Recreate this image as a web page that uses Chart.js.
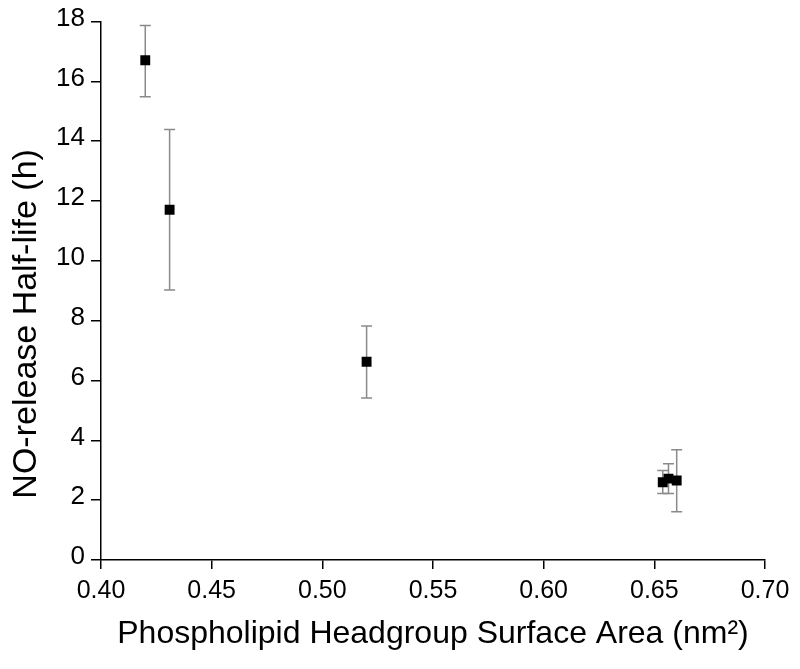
<!DOCTYPE html>
<html>
<head>
<meta charset="utf-8">
<script src="https://cdn.jsdelivr.net/npm/chart.js@4/dist/chart.umd.min.js"></script>
<style>
html,body{margin:0;padding:0;background:#fff;}
#wrap{width:800px;height:669px;position:relative;}
</style>
</head>
<body>
<div id="wrap"><canvas id="c" width="800" height="669"></canvas></div>
<script>
const xValues = [0.420, 0.431, 0.520, 0.6538, 0.6564, 0.6601];
const yValues = [16.71, 11.71, 6.63, 2.60, 2.72, 2.66];
const yErrUpper = [17.87, 14.39, 7.82, 2.99, 3.22, 3.69];
const yErrLower = [15.49, 9.03, 5.42, 2.22, 2.22, 1.61];
const xTickLabels = ['0.40','0.45','0.50','0.55','0.60','0.65','0.70'];
const yTickLabels = ['0','2','4','6','8','10','12','14','16','18'];

const points = xValues.map((x, i) => ({x: x, y: yValues[i]}));

const errorBars = {
  id: 'errorBars',
  beforeDatasetsDraw(chart) {
    const ctx = chart.ctx;
    const xs = chart.scales.x, ys = chart.scales.y;
    ctx.save();
    ctx.strokeStyle = '#8a8a8a';
    ctx.lineWidth = 1.5;
    const cap = 5.5;
    xValues.forEach((xv, i) => {
      const px = xs.getPixelForValue(xv);
      const top = ys.getPixelForValue(yErrUpper[i]);
      const bot = ys.getPixelForValue(yErrLower[i]);
      ctx.beginPath();
      ctx.moveTo(px, top); ctx.lineTo(px, bot);
      ctx.moveTo(px - cap, top); ctx.lineTo(px + cap, top);
      ctx.moveTo(px - cap, bot); ctx.lineTo(px + cap, bot);
      ctx.stroke();
    });
    ctx.restore();
  }
};

const fontFam = '"Liberation Sans", Arial, sans-serif';

new Chart(document.getElementById('c'), {
  type: 'scatter',
  data: {
    datasets: [{
      data: points,
      pointStyle: 'rect',
      pointRadius: 7,
      pointHoverRadius: 7,
      backgroundColor: '#000',
      borderColor: '#000',
      borderWidth: 0
    }]
  },
  options: {
    responsive: false,
    animation: false,
    events: [],
    layout: {padding: {top: 19, right: 35, left: 0, bottom: 0}},
    plugins: {legend: {display: false}, tooltip: {enabled: false}},
    scales: {
      x: {
        type: 'linear',
        min: 0.40, max: 0.70,
        afterBuildTicks(axis) {
          axis.ticks = xTickLabels.map(v => ({value: parseFloat(v)}));
        },
        afterFit(axis) { axis.height = 109; },
        grid: {drawOnChartArea: false, drawTicks: true, tickLength: 9, color: '#000', lineWidth: 1.5},
        border: {display: true, color: '#000', width: 1.5},
        ticks: {
          color: '#000',
          font: {family: fontFam, size: 25},
          padding: 7,
          maxRotation: 0,
          callback: (v, i) => xTickLabels[i]
        },
        title: {
          display: true,
          text: 'Phospholipid Headgroup Surface Area (nm²)',
          color: '#000',
          font: {family: fontFam, size: 32},
          padding: {top: 0, bottom: 16}
        }
      },
      y: {
        type: 'linear',
        min: 0, max: 18,
        afterBuildTicks(axis) {
          axis.ticks = yTickLabels.map(v => ({value: parseFloat(v)}));
        },
        afterFit(axis) { axis.width = 101; },
        grid: {drawOnChartArea: false, drawTicks: true, tickLength: 10, color: '#000', lineWidth: 1.5},
        border: {display: true, color: '#000', width: 1.5},
        ticks: {
          color: '#000',
          font: {family: fontFam, size: 26},
          padding: 6,
          labelOffset: -3,
          callback: (v, i) => yTickLabels[i]
        },
        title: {
          display: true,
          text: 'NO-release Half-life (h)       ',
          color: '#000',
          font: {family: fontFam, size: 34},
          padding: {top: 6, bottom: 0}
        }
      }
    }
  },
  plugins: [errorBars]
});
</script>
</body>
</html>
